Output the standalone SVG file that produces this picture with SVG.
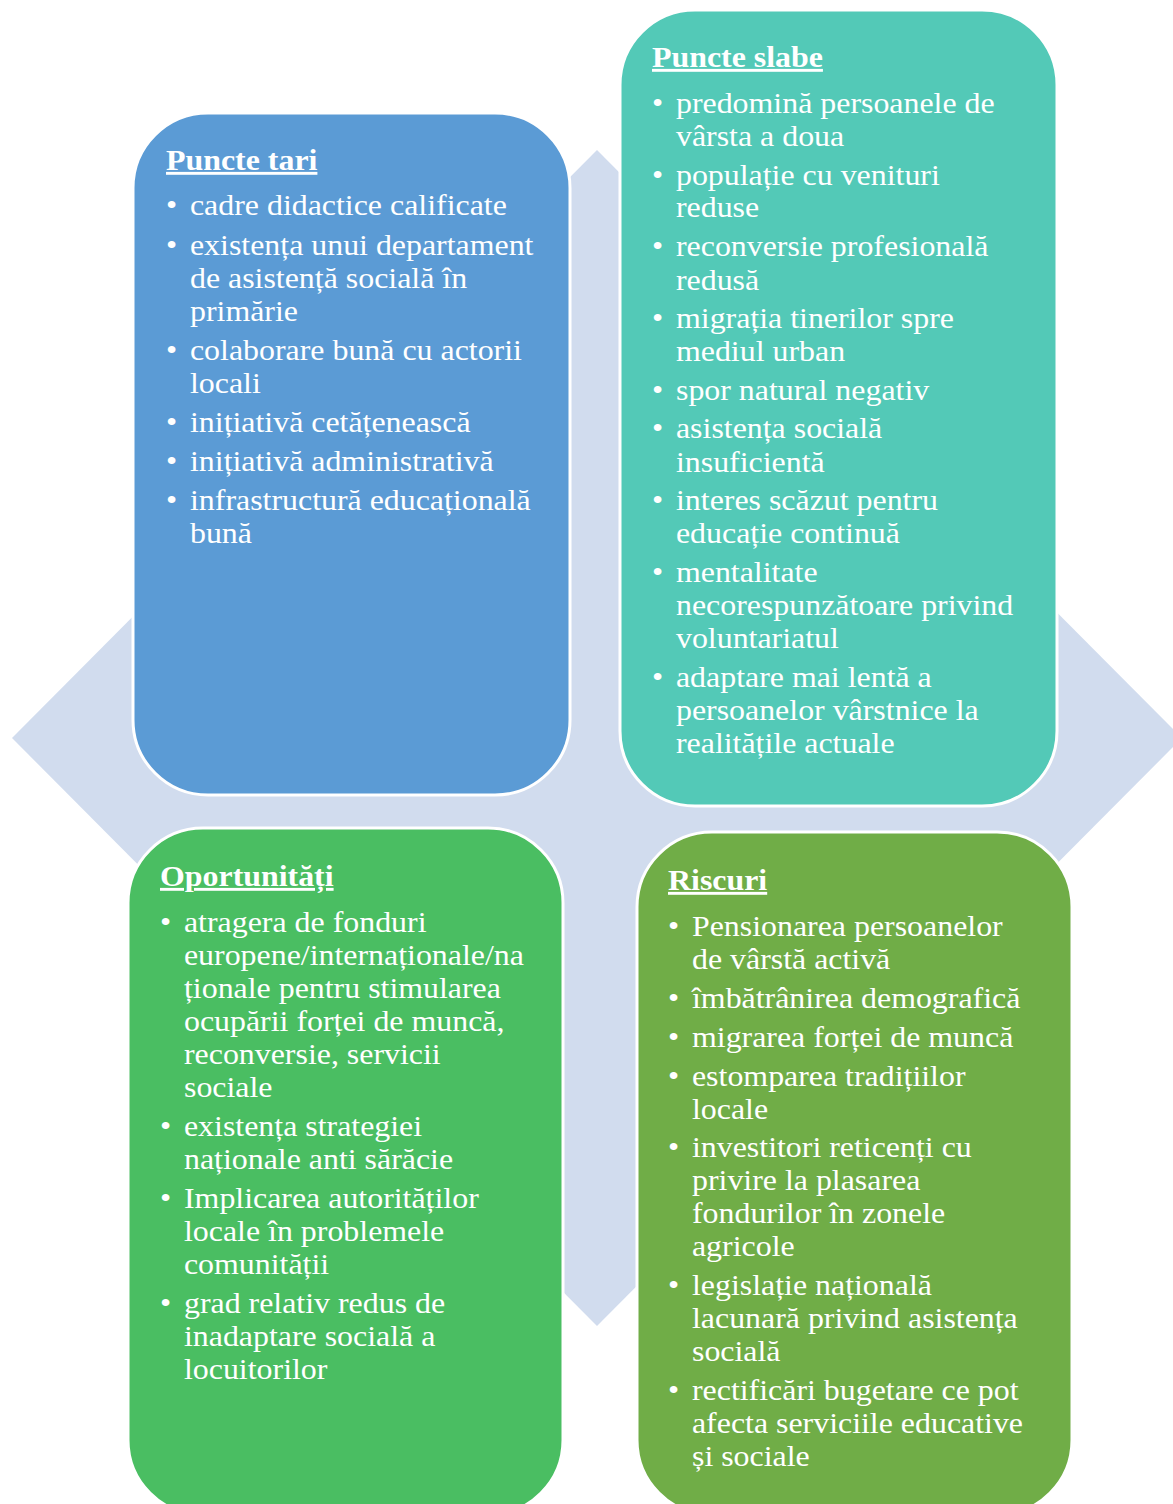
<svg xmlns="http://www.w3.org/2000/svg" width="1173" height="1504" viewBox="0 0 1173 1504">
<style>
.box{stroke:#FFFFFF;stroke-width:3}
text{font-family:"Liberation Serif","Times New Roman",serif;font-size:29px;fill:#FFFFFF}
.h{font-weight:bold;text-decoration:underline}
</style>
<rect width="1173" height="1504" fill="#FFFFFF"/>
<g id="background">
<polygon points="12,738 597,150 1182,738 597,1326" fill="#D1DCEE"/>
</g>
<g id="connectors"></g>
<g id="puncte-tari">
<rect class="box" x="133" y="113" width="437" height="682" rx="75" ry="75" fill="#5B9BD5"/>
<g transform="translate(166,0) scale(1.1,1)">
<text class="h" x="0" y="170">Puncte tari</text>
<text x="0" y="215">•</text><text x="21.8" y="215">cadre didactice calificate</text>
<text x="0" y="255">•</text><text x="21.8" y="255">existența unui departament</text>
<text x="21.8" y="288">de asistență socială în</text>
<text x="21.8" y="321">primărie</text>
<text x="0" y="360">•</text><text x="21.8" y="360">colaborare bună cu actorii</text>
<text x="21.8" y="393">locali</text>
<text x="0" y="432">•</text><text x="21.8" y="432">inițiativă cetățenească</text>
<text x="0" y="471">•</text><text x="21.8" y="471">inițiativă administrativă</text>
<text x="0" y="510">•</text><text x="21.8" y="510">infrastructură educațională</text>
<text x="21.8" y="543">bună</text>
</g>
</g>
<g id="puncte-slabe">
<rect class="box" x="620" y="10" width="437" height="796" rx="75" ry="75" fill="#53C9B7"/>
<g transform="translate(652,0) scale(1.1,1)">
<text class="h" x="0" y="67">Puncte slabe</text>
<text x="0" y="113">•</text><text x="21.8" y="113">predomină persoanele de</text>
<text x="21.8" y="146">vârsta a doua</text>
<text x="0" y="185">•</text><text x="21.8" y="185">populație cu venituri</text>
<text x="21.8" y="217">reduse</text>
<text x="0" y="256">•</text><text x="21.8" y="256">reconversie profesională</text>
<text x="21.8" y="290">redusă</text>
<text x="0" y="328">•</text><text x="21.8" y="328">migrația tinerilor spre</text>
<text x="21.8" y="361">mediul urban</text>
<text x="0" y="400">•</text><text x="21.8" y="400">spor natural negativ</text>
<text x="0" y="438">•</text><text x="21.8" y="438">asistența socială</text>
<text x="21.8" y="472">insuficientă</text>
<text x="0" y="510">•</text><text x="21.8" y="510">interes scăzut pentru</text>
<text x="21.8" y="543">educație continuă</text>
<text x="0" y="582">•</text><text x="21.8" y="582">mentalitate</text>
<text x="21.8" y="615">necorespunzătoare privind</text>
<text x="21.8" y="648">voluntariatul</text>
<text x="0" y="687">•</text><text x="21.8" y="687">adaptare mai lentă a</text>
<text x="21.8" y="720">persoanelor vârstnice la</text>
<text x="21.8" y="753">realitățile actuale</text>
</g>
</g>
<g id="oportunitati">
<rect class="box" x="128" y="828" width="435" height="687" rx="75" ry="75" fill="#4ABE62"/>
<g transform="translate(160,0) scale(1.1,1)">
<text class="h" x="0" y="886">Oportunități</text>
<text x="0" y="932">•</text><text x="21.8" y="932">atragera de fonduri</text>
<text x="21.8" y="965">europene/internaționale/na</text>
<text x="21.8" y="998">ționale pentru stimularea</text>
<text x="21.8" y="1031">ocupării forței de muncă,</text>
<text x="21.8" y="1064">reconversie, servicii</text>
<text x="21.8" y="1097">sociale</text>
<text x="0" y="1136">•</text><text x="21.8" y="1136">existența strategiei</text>
<text x="21.8" y="1169">naționale anti sărăcie</text>
<text x="0" y="1208">•</text><text x="21.8" y="1208">Implicarea autorităților</text>
<text x="21.8" y="1241">locale în problemele</text>
<text x="21.8" y="1274">comunității</text>
<text x="0" y="1313">•</text><text x="21.8" y="1313">grad relativ redus de</text>
<text x="21.8" y="1346">inadaptare socială a</text>
<text x="21.8" y="1379">locuitorilor</text>
</g>
</g>
<g id="riscuri">
<rect class="box" x="637" y="832" width="435" height="683" rx="75" ry="75" fill="#70AD47"/>
<g transform="translate(668,0) scale(1.1,1)">
<text class="h" x="0" y="890">Riscuri</text>
<text x="0" y="936">•</text><text x="21.8" y="936">Pensionarea persoanelor</text>
<text x="21.8" y="969">de vârstă activă</text>
<text x="0" y="1008">•</text><text x="21.8" y="1008">îmbătrânirea demografică</text>
<text x="0" y="1047">•</text><text x="21.8" y="1047">migrarea forței de muncă</text>
<text x="0" y="1086">•</text><text x="21.8" y="1086">estomparea tradițiilor</text>
<text x="21.8" y="1119">locale</text>
<text x="0" y="1157">•</text><text x="21.8" y="1157">investitori reticenți cu</text>
<text x="21.8" y="1190">privire la plasarea</text>
<text x="21.8" y="1223">fondurilor în zonele</text>
<text x="21.8" y="1256">agricole</text>
<text x="0" y="1295">•</text><text x="21.8" y="1295">legislație națională</text>
<text x="21.8" y="1328">lacunară privind asistența</text>
<text x="21.8" y="1361">socială</text>
<text x="0" y="1400">•</text><text x="21.8" y="1400">rectificări bugetare ce pot</text>
<text x="21.8" y="1433">afecta serviciile educative</text>
<text x="21.8" y="1466">și sociale</text>
</g>
</g>
</svg>
